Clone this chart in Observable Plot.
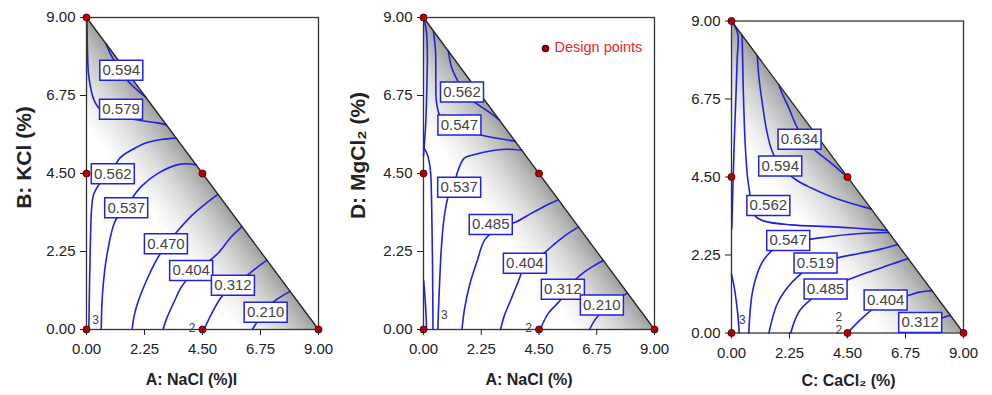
<!DOCTYPE html>
<html><head><meta charset="utf-8">
<script src="https://cdn.jsdelivr.net/npm/d3@7"></script>
<script src="https://cdn.jsdelivr.net/npm/@observablehq/plot@0.6"></script>
<style>
body{margin:0;background:#fff;}
#wrap{position:relative;width:992px;height:395px;overflow:hidden;background:#fff;}
.panel{position:absolute;top:0;}
</style></head><body><div id="wrap"></div>
<script>
// ---------- data ----------
const ticks = [0, 2.25, 4.5, 6.75, 9];
const triangle = [{x:0, y:9}, {x:9, y:0}];
const designPoints = [[0,9],[0,4.5],[0,0],[4.5,4.5],[4.5,0],[9,0]];

// Panel A: NaCl vs KCl
const linesA = [
 {id:"0.594", pts:[[0.76,8.24],[0.95,7.92],[1.15,7.64],[1.45,7.3],[1.83,7.0],[2.3,6.7]]},
 {id:"0.579", pts:[[0.02,8.95],[0.04,8.0],[0.09,7.3],[0.3,6.6],[0.6,6.3],[1.0,6.2],[2.16,6.02],[2.75,5.96],[3.1,5.9]]},
 {id:"0.562", pts:[[3.48,5.52],[2.9,5.48],[2.3,5.38],[1.8,5.2],[1.3,4.95],[1.0,4.6],[0.55,4.25],[0.28,3.9],[0.2,3.5],[0.15,2.5],[0.12,1.4],[0.09,0]]},
 {id:"0.537", pts:[[4.25,4.75],[3.64,4.77],[2.74,4.49],[2.09,4.1],[1.55,3.55],[1.12,3.14],[0.8,2.18],[0.63,1.12],[0.57,0]]},
 {id:"0.470", pts:[[5.1,3.9],[4.6,3.62],[4.1,3.3],[3.6,2.9],[3.1,2.45],[2.75,2.05],[2.35,1.45],[2.0,0.8],[1.85,0.4],[1.77,0]]},
 {id:"0.404", pts:[[6.03,2.97],[5.6,2.66],[5.1,2.2],[4.6,1.88],[4.1,1.6],[3.7,1.25],[3.4,0.8],[3.1,0.3],[2.97,0]]},
 {id:"0.312", pts:[[7.0,2.0],[6.6,1.78],[6.1,1.48],[5.6,1.22],[5.2,0.9],[4.85,0.45],[4.56,0]]},
 {id:"0.210", pts:[[7.9,1.1],[7.55,0.95],[7.1,0.7],[6.7,0.3],[6.43,0]]}
];
const labelsA = [
 {v:"0.594", x:1.35, y:7.48}, {v:"0.579", x:1.34, y:6.35}, {v:"0.562", x:1.02, y:4.49},
 {v:"0.537", x:1.54, y:3.51}, {v:"0.470", x:3.08, y:2.47}, {v:"0.404", x:4.06, y:1.7},
 {v:"0.312", x:5.68, y:1.28}, {v:"0.210", x:6.95, y:0.5}
];
const repsA = [{t:"3", x:0.35, y:0.28}, {t:"2", x:4.1, y:0.04}];

// Panel B: NaCl vs MgCl2
const linesB = [
 {id:"e1", pts:[[0.03,8.95],[0.12,8.55],[0.15,8.0],[0.13,7.0],[0.09,6.0],[0.04,5.4],[0.0,5.0]]},
 {id:"0.547", pts:[[0.39,8.6],[0.47,8.0],[0.48,7.2],[0.5,6.6],[0.62,6.2],[0.9,5.95],[1.4,5.85],[2.2,5.62],[3.0,5.5],[3.57,5.43]]},
 {id:"0.562", pts:[[0.97,8.03],[1.1,7.55],[1.35,7.15],[1.6,6.85],[1.95,6.58],[2.3,6.4],[2.65,6.22],[2.95,6.05]]},
 {id:"0.537", pts:[[3.83,5.17],[3.2,5.2],[2.6,5.15],[2.0,5.05],[1.6,4.95],[1.35,4.6],[1.2,4.2],[0.95,3.8],[0.8,3.2],[0.7,2.4],[0.63,1.4],[0.58,0.5],[0.56,0]]},
 {id:"e2", pts:[[0,5.25],[0.12,5.1],[0.22,4.85],[0.28,4.5],[0.32,3.5],[0.35,2],[0.37,0]]},
 {id:"e3", pts:[[0.01,1.4],[0.06,0.9],[0.1,0.4],[0.12,0]]},
 {id:"0.485", pts:[[5.26,3.74],[4.7,3.55],[4.2,3.35],[3.6,3.1],[3.0,2.95],[2.4,2.6],[2.1,2.0],[1.8,1.3],[1.6,0.6],[1.5,0]]},
 {id:"0.404", pts:[[6.04,2.96],[5.5,2.7],[5.0,2.4],[4.6,2.15],[4.0,1.9],[3.7,1.4],[3.4,0.85],[3.15,0.4],[3.0,0]]},
 {id:"0.312", pts:[[7.01,1.99],[6.6,1.82],[6.2,1.62],[5.8,1.35],[5.4,0.9],[4.85,0.45],[4.55,0]]},
 {id:"0.210", pts:[[7.95,1.05],[7.6,0.9],[7.1,0.62],[6.7,0.3],[6.47,0]]}
];
const labelsB = [
 {v:"0.562", x:1.5, y:6.85}, {v:"0.547", x:1.4, y:5.9}, {v:"0.537", x:1.39, y:4.1},
 {v:"0.485", x:2.62, y:3.03}, {v:"0.404", x:3.95, y:1.91}, {v:"0.312", x:5.43, y:1.16},
 {v:"0.210", x:6.95, y:0.71}
];
const repsB = [{t:"3", x:0.81, y:0.4}, {t:"2", x:4.09, y:0.04}];

// Panel C: CaCl2 vs MgCl2
const linesC = [
 {id:"e1", pts:[[0.1,8.9],[0.25,8.6],[0.22,7.9],[0.18,7.0],[0.12,5.8],[0.07,4.6],[0.04,3.8],[0.01,3.0]]},
 {id:"0.562", pts:[[0.41,8.59],[0.43,8.0],[0.45,7.2],[0.5,6.0],[0.55,5.2],[0.62,4.5],[0.72,3.97],[0.78,3.6],[0.95,3.35],[1.3,3.22],[2.3,3.12],[4.0,3.06],[6.04,2.96]]},
 {id:"0.594", pts:[[1.0,8.0],[1.06,7.4],[1.2,6.6],[1.35,5.9],[1.55,5.3],[1.9,4.8],[2.5,4.42],[3.1,4.18],[3.8,3.95],[4.6,3.75],[5.42,3.58]]},
 {id:"0.634", pts:[[1.83,7.17],[2.0,6.85],[2.22,6.5],[2.5,6.0],[2.8,5.6],[3.26,5.26],[3.9,4.88],[4.52,4.48]]},
 {id:"0.547", pts:[[0.67,0],[0.72,0.6],[0.8,1.13],[0.95,1.6],[1.2,2.05],[1.6,2.4],[2.2,2.65],[3.0,2.7],[4.0,2.8],[5.0,2.87],[6.1,2.9]]},
 {id:"0.519", pts:[[1.45,0],[1.6,0.45],[1.75,0.8],[2.1,1.25],[2.6,1.65],[3.25,2.0],[4.0,2.15],[5.0,2.3],[5.8,2.42],[6.45,2.55]]},
 {id:"0.485", pts:[[2.3,0],[2.45,0.35],[2.65,0.65],[3.05,0.95],[3.65,1.28],[4.4,1.5],[5.3,1.75],[6.2,1.98],[6.85,2.15]]},
 {id:"0.404", pts:[[4.5,0],[4.75,0.2],[5.1,0.45],[5.5,0.7],[6.0,0.95],[6.7,1.05],[7.3,1.18],[7.78,1.22]]},
 {id:"0.312", pts:[[7.0,0],[7.4,0.2],[8.1,0.42],[8.49,0.51]]},
 {id:"e2", pts:[[0,1.7],[0.1,1.35],[0.17,1.0],[0.25,0.5],[0.3,0]]}
];
const labelsC = [
 {v:"0.634", x:2.64, y:5.59}, {v:"0.594", x:1.89, y:4.82}, {v:"0.562", x:1.43, y:3.68},
 {v:"0.547", x:2.2, y:2.67}, {v:"0.519", x:3.26, y:2.02}, {v:"0.485", x:3.65, y:1.27},
 {v:"0.404", x:5.98, y:0.95}, {v:"0.312", x:7.32, y:0.3}
];
const repsC = [{t:"2", x:4.16, y:0.46}, {t:"3", x:0.42, y:0.38}, {t:"2", x:4.16, y:0.07}];

// ---------- drawing ----------
const FONT = "'Liberation Sans', Arial, Helvetica, sans-serif";
const BLUE = "#2222dd";
const boxSymbol = {draw(ctx) { ctx.rect(-21.5, -10, 43, 20); }};

function makePanel(cfg) {
  const rows = cfg.lines.flatMap(l => l.pts.map(([x, y]) => ({id: l.id, x, y})));
  const gid = "grad" + cfg.key;
  const marks = [
    Plot.areaY(triangle, {x: "x", y: "y", fill: `url(#${gid})`}),
    Plot.line(rows, {x: "x", y: "y", z: "id", stroke: BLUE, strokeWidth: 1.6, curve: "catmull-rom"}),
    Plot.line(triangle, {x: "x", y: "y", stroke: "#222", strokeWidth: 1.3}),
    Plot.frame({stroke: "#333", strokeWidth: 1.3}),
    Plot.dot(cfg.labels, {x: "x", y: "y", symbol: boxSymbol, r: 5, fill: "white", stroke: BLUE, strokeWidth: 1.5}),
    Plot.text(cfg.labels, {x: "x", y: "y", text: "v", fontSize: 15, fill: "#444"}),
    Plot.text(cfg.reps, {x: "x", y: "y", text: "t", fontSize: 12, fill: "#444"}),
    Plot.dot(designPoints, {x: d => d[0], y: d => d[1], r: 3.5, fill: "#c00000", stroke: "#5a0000", strokeWidth: 1}),
    Plot.axisX({ticks, tickFormat: d => d.toFixed(2), tickSize: 6, tickPadding: 8, label: null, fontSize: 15, fill: "#222"}),
    Plot.axisY({ticks, tickFormat: d => d.toFixed(2), tickSize: 6, tickPadding: 5, label: null, fontSize: 15, fill: "#222"}),
    Plot.text([cfg.xLabel], {text: d => d, frameAnchor: "bottom", lineAnchor: "middle", textAnchor: "middle", dx: cfg.xdx, dy: cfg.xdy, fontSize: 16, fontWeight: "bold", fill: "#222"})
  ];
  if (cfg.yLabel) marks.push(Plot.text([cfg.yLabel], {text: d => d, frameAnchor: "left", textAnchor: "middle", lineAnchor: "middle", rotate: -90, dx: cfg.ydx, dy: cfg.ydy, fontSize: 21, fontWeight: "bold", fill: "#222"}));
  if (cfg.legend) {
    marks.push(Plot.dot([0], {frameAnchor: "top-right", dx: -109, dy: 31, r: 3, fill: "#b00000", stroke: "#500000"}));
    marks.push(Plot.text([cfg.legend], {text: d => d, frameAnchor: "top-right", textAnchor: "start", lineAnchor: "middle", dx: -100, dy: 30, fontSize: 14.5, fill: "#e8262a"}));
  }
  const chart = Plot.plot({
    width: cfg.width, height: 395,
    marginTop: cfg.mt, marginBottom: 395 - cfg.bottom, marginLeft: cfg.ml, marginRight: cfg.mr,
    style: {fontFamily: FONT, fontSize: "15px", color: "#222", background: "transparent", overflow: "visible"},
    x: {domain: [0, 9]},
    y: {domain: [0, 9]},
    marks
  });
  const defs = document.createElementNS("http://www.w3.org/2000/svg", "defs");
  defs.innerHTML = `<linearGradient id="${gid}" x1="0.5" y1="0.5" x2="0" y2="1">
    <stop offset="0" stop-color="#a0a0a0"/>
    <stop offset="0.06" stop-color="#b8b8b8"/>
    <stop offset="0.15" stop-color="#d6d6d6"/>
    <stop offset="0.26" stop-color="#f0f0f0"/>
    <stop offset="0.35" stop-color="#ffffff"/>
    <stop offset="1" stop-color="#ffffff"/></linearGradient>`;
  chart.insertBefore(defs, chart.firstChild);
  const div = document.createElement("div");
  div.className = "panel";
  div.style.left = cfg.left + "px";
  div.appendChild(chart);
  document.getElementById("wrap").appendChild(div);
}

makePanel({key: "A", left: 0, width: 330, mt: 17, bottom: 329, ml: 86, mr: 12,
  lines: linesA, labels: labelsA, reps: repsA,
  xLabel: "A: NaCl (%)l", xdx: -11, xdy: 50, yLabel: "B: KCl (%)", ydx: -62, ydy: -16});
makePanel({key: "B", left: 330, width: 330, mt: 17, bottom: 329, ml: 93, mr: 6,
  lines: linesB, labels: labelsB, reps: repsB, legend: "Design points",
  xLabel: "A: NaCl (%)", xdx: -10, xdy: 50, yLabel: "D: MgCl\u2082 (%)", ydx: -65, ydy: -18});
makePanel({key: "C", left: 660, width: 332, mt: 20.5, bottom: 332.5, ml: 71, mr: 29,
  lines: linesC, labels: labelsC, reps: repsC,
  xLabel: "C: CaCl\u2082 (%)", xdx: 1, xdy: 48});
</script></body></html>
